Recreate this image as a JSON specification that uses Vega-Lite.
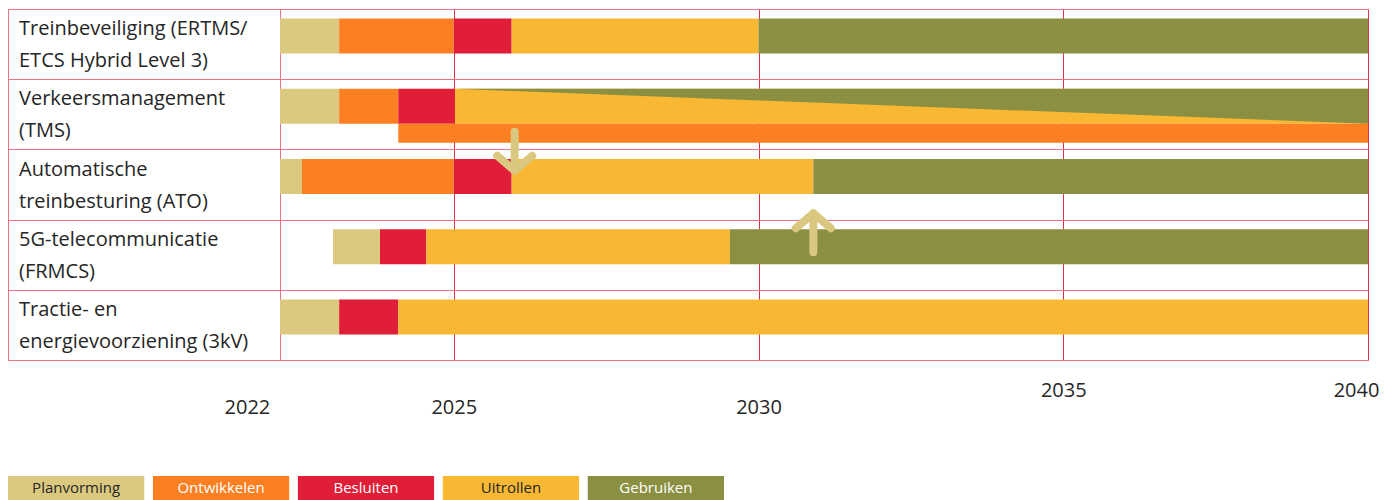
{
  "$schema": "https://vega.github.io/schema/vega-lite/v6.json",
  "padding": {"left": 7, "top": 8, "right": 0, "bottom": 0},
  "background": "white",
  "config": {
    "font": "Open Sans",
    "view": {"stroke": "#EC7385", "strokeWidth": 1},
    "axisX": {"orient": "bottom", "title": null, "format": "d", "domain": false, "ticks": false, "tickSize": 0, "labelFont": "Open Sans", "labelFontSize": 20, "labelColor": "#262626", "labelBaseline": "middle", "labelFlush": false, "labelOverlap": false, "labelBound": false, "grid": false}
  },
  "spacing": 58,
  "datasets": {
    "rows": [
      {"task": "Treinbeveiliging (ERTMS/ETCS Hybrid Level 3)", "label": ["Treinbeveiliging (ERTMS/", "ETCS Hybrid Level 3)"]},
      {"task": "Verkeersmanagement (TMS)", "label": ["Verkeersmanagement", "(TMS)"]},
      {"task": "Automatische treinbesturing (ATO)", "label": ["Automatische", "treinbesturing (ATO)"]},
      {"task": "5G-telecommunicatie (FRMCS)", "label": ["5G-telecommunicatie", "(FRMCS)"]},
      {"task": "Tractie- en energievoorziening (3kV)", "label": ["Tractie- en", "energievoorziening (3kV)"]}
    ],
    "bars": [
      {"task": "Treinbeveiliging (ERTMS/ETCS Hybrid Level 3)", "lane": "main", "phase": "Planvorming", "start": 2022.15, "end": 2023.12},
      {"task": "Treinbeveiliging (ERTMS/ETCS Hybrid Level 3)", "lane": "main", "phase": "Ontwikkelen", "start": 2023.12, "end": 2025.0},
      {"task": "Treinbeveiliging (ERTMS/ETCS Hybrid Level 3)", "lane": "main", "phase": "Besluiten", "start": 2025.0, "end": 2025.95},
      {"task": "Treinbeveiliging (ERTMS/ETCS Hybrid Level 3)", "lane": "main", "phase": "Uitrollen", "start": 2025.95, "end": 2030.0},
      {"task": "Treinbeveiliging (ERTMS/ETCS Hybrid Level 3)", "lane": "main", "phase": "Gebruiken", "start": 2030.0, "end": 2040.0},
      {"task": "Verkeersmanagement (TMS)", "lane": "main", "phase": "Planvorming", "start": 2022.15, "end": 2023.12},
      {"task": "Verkeersmanagement (TMS)", "lane": "main", "phase": "Ontwikkelen", "start": 2023.12, "end": 2024.09},
      {"task": "Verkeersmanagement (TMS)", "lane": "main", "phase": "Besluiten", "start": 2024.09, "end": 2025.02},
      {"task": "Verkeersmanagement (TMS)", "lane": "main", "phase": "Uitrollen", "start": 2025.02, "end": 2040.0},
      {"task": "Verkeersmanagement (TMS)", "lane": "sub", "phase": "Ontwikkelen", "start": 2024.09, "end": 2040.0},
      {"task": "Automatische treinbesturing (ATO)", "lane": "main", "phase": "Planvorming", "start": 2022.15, "end": 2022.51},
      {"task": "Automatische treinbesturing (ATO)", "lane": "main", "phase": "Ontwikkelen", "start": 2022.51, "end": 2025.0},
      {"task": "Automatische treinbesturing (ATO)", "lane": "main", "phase": "Besluiten", "start": 2025.0, "end": 2025.95},
      {"task": "Automatische treinbesturing (ATO)", "lane": "main", "phase": "Uitrollen", "start": 2025.95, "end": 2030.9},
      {"task": "Automatische treinbesturing (ATO)", "lane": "main", "phase": "Gebruiken", "start": 2030.9, "end": 2040.0},
      {"task": "5G-telecommunicatie (FRMCS)", "lane": "main", "phase": "Planvorming", "start": 2023.02, "end": 2023.79},
      {"task": "5G-telecommunicatie (FRMCS)", "lane": "main", "phase": "Besluiten", "start": 2023.79, "end": 2024.55},
      {"task": "5G-telecommunicatie (FRMCS)", "lane": "main", "phase": "Uitrollen", "start": 2024.55, "end": 2029.53},
      {"task": "5G-telecommunicatie (FRMCS)", "lane": "main", "phase": "Gebruiken", "start": 2029.53, "end": 2040.0},
      {"task": "Tractie- en energievoorziening (3kV)", "lane": "main", "phase": "Planvorming", "start": 2022.15, "end": 2023.12},
      {"task": "Tractie- en energievoorziening (3kV)", "lane": "main", "phase": "Besluiten", "start": 2023.12, "end": 2024.09},
      {"task": "Tractie- en energievoorziening (3kV)", "lane": "main", "phase": "Uitrollen", "start": 2024.09, "end": 2040.0}
    ],
    "triangle": [
      {"year": 2025.02, "share": 0},
      {"year": 2040.0, "share": 1}
    ],
    "arrows": [
      {"direction": "down", "year": 2026.0, "task": "Verkeersmanagement (TMS)"},
      {"direction": "up", "year": 2030.9, "task": "5G-telecommunicatie (FRMCS)"}
    ],
    "phases": [
      {"phase": "Planvorming"},
      {"phase": "Ontwikkelen"},
      {"phase": "Besluiten"},
      {"phase": "Uitrollen"},
      {"phase": "Gebruiken"}
    ]
  },
  "vconcat": [
    {
      "spacing": 0,
      "bounds": "flush",
      "hconcat": [
        {
          "width": 272,
          "height": 351,
          "data": {"name": "rows"},
          "mark": {"type": "text", "align": "left", "baseline": "middle", "dx": -125, "dy": -15, "fontSize": 20, "lineHeight": 32, "color": "#262626"},
          "encoding": {
            "y": {
              "field": "task", "type": "nominal", "sort": null,
              "scale": {"type": "band", "domain": ["Treinbeveiliging (ERTMS/ETCS Hybrid Level 3)", "Verkeersmanagement (TMS)", "Automatische treinbesturing (ATO)", "5G-telecommunicatie (FRMCS)", "Tractie- en energievoorziening (3kV)"], "paddingInner": 0, "paddingOuter": 0},
              "axis": {"grid": true, "tickBand": "extent", "labels": false, "ticks": false, "domain": false, "title": null, "gridColor": "#EC7385", "gridWidth": 1}
            },
            "text": {"field": "label"}
          }
        },
        {
          "width": 1088,
          "height": 351,
          "resolve": {"scale": {"y": "independent"}, "axis": {"y": "independent", "x": "independent"}},
          "layer": [
            {
              "data": {"name": "bars"},
              "transform": [{"filter": "datum.lane == 'main'"}],
              "mark": {"type": "bar", "height": 35, "yOffset": -8},
              "encoding": {
                "x": {
                  "field": "start", "type": "quantitative",
                  "scale": {"domain": [2022, 2040], "range": [-9.1, 1088], "nice": false, "zero": false},
                  "axis": {"orient": "bottom", "values": [2025, 2030, 2035, 2040], "grid": true, "gridColor": "#E2304A", "gridWidth": 1, "labels": false}
                },
                "x2": {"field": "end"},
                "y": {
                  "field": "task", "type": "nominal", "sort": null,
                  "scale": {"domain": ["Treinbeveiliging (ERTMS/ETCS Hybrid Level 3)", "Verkeersmanagement (TMS)", "Automatische treinbesturing (ATO)", "5G-telecommunicatie (FRMCS)", "Tractie- en energievoorziening (3kV)"], "paddingInner": 0, "paddingOuter": 0},
                  "axis": {"grid": true, "tickBand": "extent", "labels": false, "ticks": false, "domain": false, "title": null, "gridColor": "#EC7385", "gridWidth": 1}
                },
                "color": {
                  "field": "phase", "type": "nominal",
                  "scale": {"domain": ["Planvorming", "Ontwikkelen", "Besluiten", "Uitrollen", "Gebruiken"], "range": ["#DBC97F", "#FC7F22", "#E01E38", "#F8B833", "#8B8F42"]},
                  "legend": null
                }
              }
            },
            {
              "data": {"name": "triangle"},
              "mark": {"type": "area", "color": "#8B8F42", "opacity": 1},
              "encoding": {
                "x": {"field": "year", "type": "quantitative", "scale": {"domain": [2022, 2040], "range": [-9.1, 1088], "nice": false, "zero": false}, "axis": {"orient": "bottom", "values": [2025, 2030], "labelPadding": 47}},
                "y": {"field": "share", "type": "quantitative", "scale": {"domain": [0, 1], "range": [79.8, 114.8], "nice": false, "zero": false}, "axis": null},
                "y2": {"datum": 0}
              }
            },
            {
              "data": {"name": "bars"},
              "transform": [{"filter": "datum.lane == 'sub'"}],
              "mark": {"type": "bar", "height": 19, "yOffset": 19},
              "encoding": {
                "x": {"field": "start", "type": "quantitative", "scale": {"domain": [2022, 2040], "range": [-9.1, 1088], "nice": false, "zero": false}, "axis": {"orient": "bottom", "values": [2022], "labelPadding": 47, "labelOffset": -24}},
                "x2": {"field": "end"},
                "y": {
                  "field": "task", "type": "nominal", "sort": null,
                  "scale": {"domain": ["Treinbeveiliging (ERTMS/ETCS Hybrid Level 3)", "Verkeersmanagement (TMS)", "Automatische treinbesturing (ATO)", "5G-telecommunicatie (FRMCS)", "Tractie- en energievoorziening (3kV)"], "paddingInner": 0, "paddingOuter": 0},
                  "axis": null
                },
                "color": {
                  "field": "phase", "type": "nominal",
                  "scale": {"domain": ["Planvorming", "Ontwikkelen", "Besluiten", "Uitrollen", "Gebruiken"], "range": ["#DBC97F", "#FC7F22", "#E01E38", "#F8B833", "#8B8F42"]},
                  "legend": null
                }
              }
            },
            {
              "data": {"name": "arrows"},
              "transform": [{"filter": "datum.direction == 'down'"}],
              "mark": {"type": "point", "shape": "M0,-1L0,1M-0.9,0.23L0,1L0.9,0.23", "size": 1521, "filled": false, "stroke": "#DAC880", "strokeWidth": 8, "strokeCap": "round", "strokeJoin": "round", "opacity": 1, "yOffset": 37},
              "encoding": {
                "x": {"field": "year", "type": "quantitative", "scale": {"domain": [2022, 2040], "range": [-9.1, 1088], "nice": false, "zero": false}, "axis": {"orient": "bottom", "values": [2035], "labelPadding": 30}},
                "y": {
                  "field": "task", "type": "nominal", "sort": null,
                  "scale": {"type": "band", "domain": ["Treinbeveiliging (ERTMS/ETCS Hybrid Level 3)", "Verkeersmanagement (TMS)", "Automatische treinbesturing (ATO)", "5G-telecommunicatie (FRMCS)", "Tractie- en energievoorziening (3kV)"], "paddingInner": 0, "paddingOuter": 0},
                  "axis": null
                }
              }
            },
            {
              "data": {"name": "arrows"},
              "transform": [{"filter": "datum.direction == 'up'"}],
              "mark": {"type": "point", "shape": "M0,1L0,-1M-0.9,-0.23L0,-1L0.9,-0.23", "size": 1521, "filled": false, "stroke": "#DAC880", "strokeWidth": 8, "strokeCap": "round", "strokeJoin": "round", "opacity": 1, "yOffset": -22},
              "encoding": {
                "x": {"field": "year", "type": "quantitative", "scale": {"domain": [2022, 2040], "range": [-9.1, 1088], "nice": false, "zero": false}, "axis": {"orient": "bottom", "values": [2040], "labelPadding": 30, "labelOffset": -12}},
                "y": {
                  "field": "task", "type": "nominal", "sort": null,
                  "scale": {"type": "band", "domain": ["Treinbeveiliging (ERTMS/ETCS Hybrid Level 3)", "Verkeersmanagement (TMS)", "Automatische treinbesturing (ATO)", "5G-telecommunicatie (FRMCS)", "Tractie- en energievoorziening (3kV)"], "paddingInner": 0, "paddingOuter": 0},
                  "axis": null
                }
              }
            }
          ]
        }
      ]
    },
    {
      "width": 716,
      "height": 24,
      "view": {"stroke": null},
      "data": {"name": "phases"},
      "encoding": {
        "x": {"field": "phase", "type": "nominal", "sort": null, "scale": {"type": "band", "domain": ["Planvorming", "Ontwikkelen", "Besluiten", "Uitrollen", "Gebruiken"], "paddingInner": 0.06, "paddingOuter": 0}, "axis": null}
      },
      "layer": [
        {
          "mark": {"type": "bar"},
          "encoding": {
            "color": {
              "field": "phase", "type": "nominal",
              "scale": {"domain": ["Planvorming", "Ontwikkelen", "Besluiten", "Uitrollen", "Gebruiken"], "range": ["#DBC97F", "#FC7F22", "#E01E38", "#F8B833", "#8B8F42"]},
              "legend": null
            }
          }
        },
        {
          "mark": {"type": "text", "fontSize": 15, "baseline": "middle", "align": "center"},
          "encoding": {
            "text": {"field": "phase"},
            "color": {"condition": {"test": "datum.phase == 'Planvorming' || datum.phase == 'Uitrollen'", "value": "#262626"}, "value": "#ffffff"}
          }
        }
      ]
    }
  ]
}
